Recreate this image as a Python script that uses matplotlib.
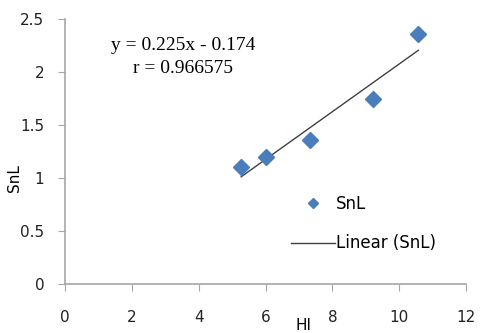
import numpy as np
import matplotlib.pyplot as plt
from matplotlib.lines import Line2D

# data
hi = [5.27, 6.02, 7.33, 9.22, 10.57]
snl = [1.10, 1.20, 1.36, 1.75, 2.36]
slope, intercept = 0.225, -0.174
r_value = 0.966575

fig = plt.figure(figsize=(4.82, 3.33), dpi=100)
ax = fig.add_axes([0.135, 0.147, 0.832, 0.796])

xs = np.array([min(hi), max(hi)])
ax.plot(xs, slope * xs + intercept, color='#404040', lw=1.0, zorder=2)
ax.plot(hi, snl, 'D', color='#4a7ebb', markersize=8.5, mec='#4a7ebb', zorder=3)

ax.set_xlim(0, 12)
ax.set_ylim(0, 2.5)
ax.set_xticks(np.arange(0, 13, 2))
ax.set_yticks([0, 0.5, 1, 1.5, 2, 2.5])
ax.set_yticklabels(['0', '0.5', '1', '1.5', '2', '2.5'])

for s in ['top', 'right']:
    ax.spines[s].set_visible(False)
for s in ['left', 'bottom']:
    ax.spines[s].set_color('#a6a6a6')
    ax.spines[s].set_linewidth(1.2)
ax.tick_params(axis='both', direction='out', length=5, color='#a6a6a6',
               labelsize=11, labelcolor='#222222')
ax.tick_params(axis='x', pad=14)
ax.tick_params(axis='y', pad=10)

ax.set_xlabel('HI', fontsize=11)
ax.xaxis.set_label_coords(0.594, -0.128)
ax.set_ylabel('SnL', fontsize=11)
ax.yaxis.set_label_coords(-0.107, 0.40)

ax.text(0.294, 0.90, 'y = 0.225x - 0.174', transform=ax.transAxes,
        ha='center', va='center', fontsize=14, family='Liberation Serif')
ax.text(0.294, 0.815, 'r = %g' % r_value, transform=ax.transAxes,
        ha='center', va='center', fontsize=14, family='Liberation Serif')

handles = [Line2D([], [], marker='D', color='#4a7ebb', ls='none', markersize=5),
           Line2D([], [], color='#404040', lw=1.0)]
ax.legend(handles, ['SnL', 'Linear (SnL)'], loc='center', bbox_to_anchor=(0.745, 0.228),
          frameon=False, fontsize=12, handlelength=2.6, handletextpad=0.1,
          labelspacing=1.3)

fig.savefig('out.png', dpi=100)
